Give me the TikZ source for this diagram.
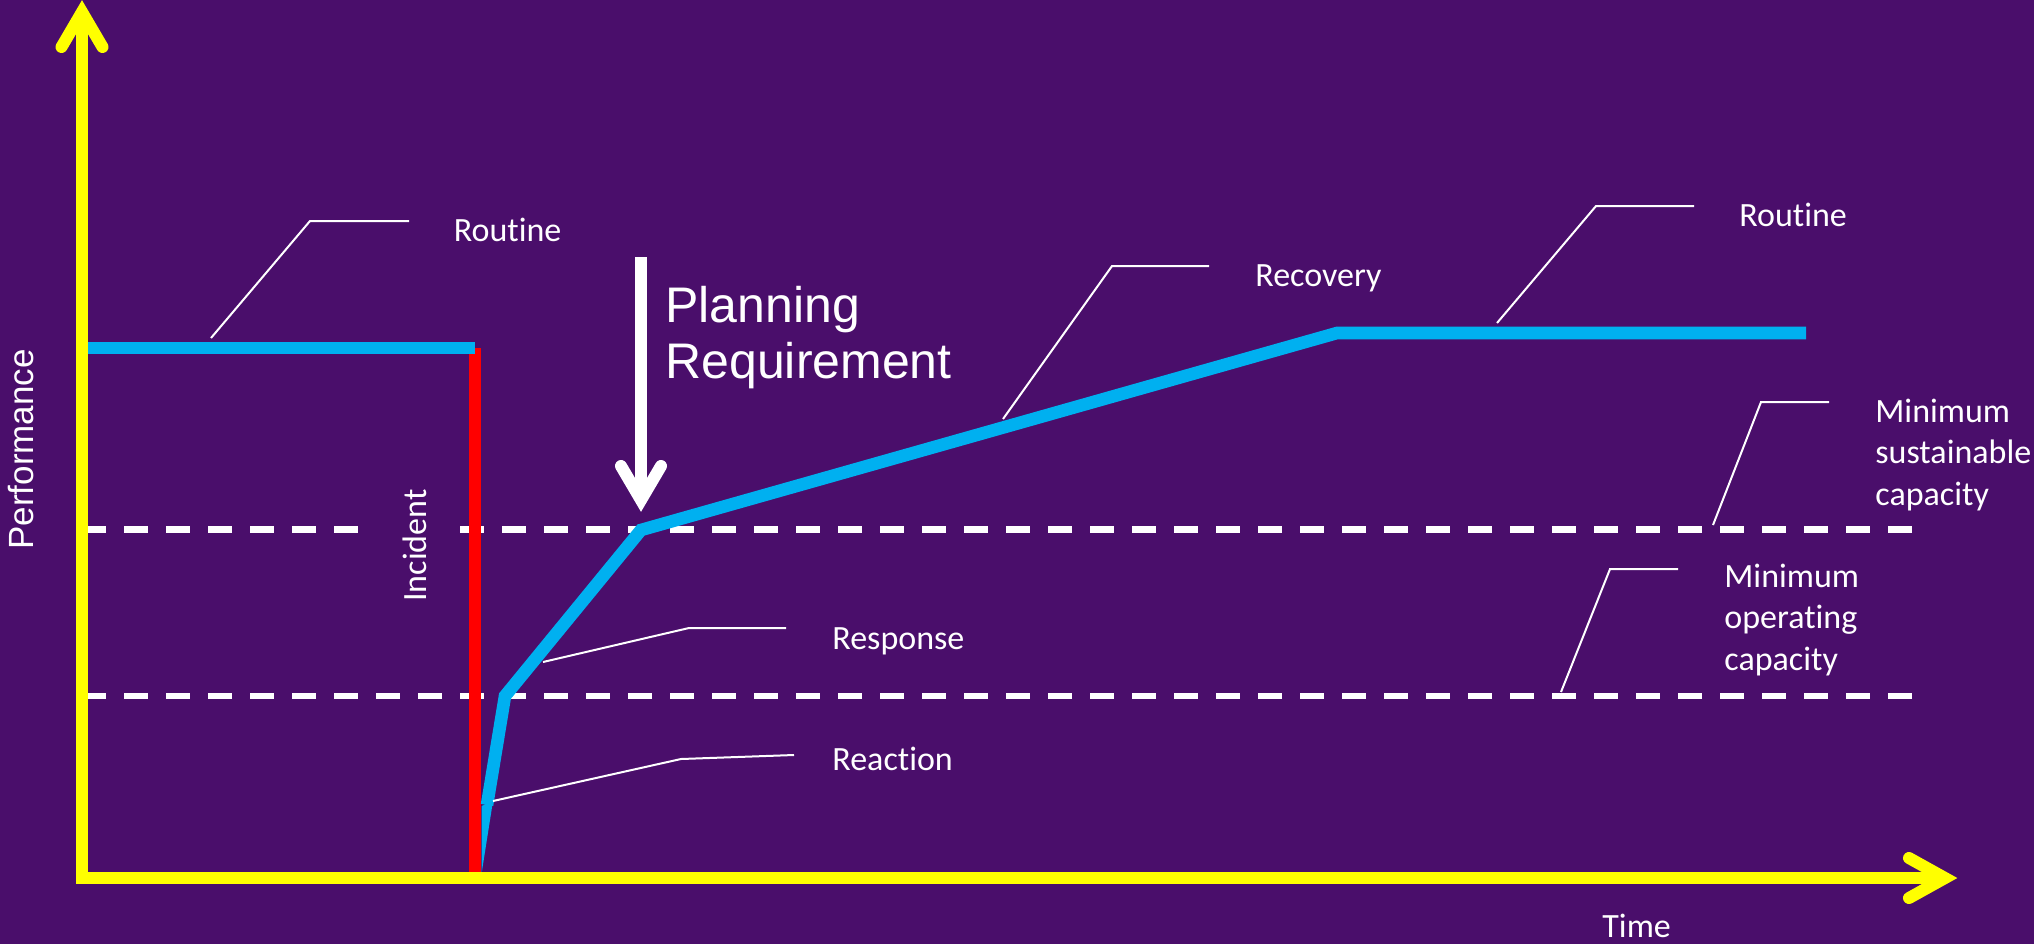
\documentclass[tikz,border=0pt]{standalone}
\usepackage{fontspec}
\newfontfamily\calfont[Ligatures=NoCommon]{Carlito}
\newfontfamily\arifont{Liberation Sans}
\definecolor{bgc}{RGB}{74,14,107}
\definecolor{curve}{RGB}{0,176,240}
\definecolor{axisy}{RGB}{255,255,0}
\definecolor{incred}{RGB}{255,0,0}
\begin{document}
\begin{tikzpicture}[x=0.5pt,y=-0.5pt,
  lbl/.style={text=white,inner sep=0pt,anchor=base west,font=\calfont\fontsize{17}{20.75}\selectfont,align=left},
  leader/.style={draw=white,line width=1pt},
  capline/.style={draw=white,line width=3.2pt,dash pattern=on 12pt off 9pt},
  axisline/.style={draw=axisy,line width=6pt,line join=miter},
  axistip/.style={draw=axisy,line width=6pt,line cap=round,line join=miter},
  curveline/.style={draw=curve,line width=6.3pt,line join=miter}]
\fill[bgc] (0,0) rectangle (2034,944);
\useasboundingbox (0,0) rectangle (2034,944);
% capacity lines
\coordinate (s1) at (82,529.5);
\coordinate (s2) at (1912,529.5);
\coordinate (o1) at (82,696);
\coordinate (o2) at (1912,696);
\draw[capline] (s1) -- (s2);
\draw[capline] (o1) -- (o2);
\fill[bgc] (358,505) rectangle (460,555);
% incident
\coordinate (r1) at (475,348);
\coordinate (r2) at (475,876);
\draw[draw=incred,line width=6pt] (r1) -- (r2);
% curve
\coordinate (c0) at (82,348);
\coordinate (c1) at (475,348);
\draw[curveline] (c0) -- (c1);
\coordinate (p0) at (487,805);
\coordinate (p1) at (505,696);
\coordinate (p2) at (641,530);
\coordinate (p3) at (1337,333);
\coordinate (p4) at (1806,333);
\fill[curve] (481.5,806) -- (493,801) -- (481.5,874) -- cycle;
\draw[curveline] (p0) -- (p1) -- (p2) -- (p3) -- (p4);
% axes
\coordinate (ytip) at (82,12);
\coordinate (org) at (82,878);
\coordinate (xtip) at (1945,878);
\draw[axisline] (ytip) -- (org) -- (xtip);
\draw[axistip] (61.5,47) -- (ytip) -- (102.5,47);
\draw[axistip] (1909,858) -- (xtip) -- (1909,898);
% planning arrow
\coordinate (pa0) at (641,257);
\coordinate (pa1) at (641,500);
\draw[draw=white,line width=6pt] (pa0) -- (pa1);
\draw[draw=white,line width=6pt,line cap=round,line join=miter] (621,466) -- (pa1) -- (661,466);
\node[text=white,inner sep=0pt,anchor=base west,font=\arifont\fontsize{25}{28}\selectfont,align=left] (plan) at (665,378) {Planning\\Requirement};
% labels
\node[lbl] (rout1) at (453.5,241) {Routine};
\node[lbl] (rout2) at (1739,226) {Routine};
\node[lbl] (recov) at (1255,286) {Recovery};
\node[lbl] (resp) at (832,649) {Response};
\node[lbl] (react) at (832,770) {Reaction};
\node[lbl] (msc) at (1875,505) {Minimum\\sustainable\\capacity};
\node[lbl] (moc) at (1724,670) {Minimum\\operating\\capacity};
\node[lbl] (time) at (1602,937) {Time};
\node[lbl,rotate=90] (inc) at (426,602) {Incident};
\node[text=white,inner sep=0pt,anchor=base west,rotate=90,font=\arifont\fontsize{17.5}{20}\selectfont] (perf) at (33,550) {Performance};
% leaders
\draw[leader] (211,338) -- (310,221) -- (409,221);
\draw[leader] (1497,323) -- (1596,206) -- (1694,206);
\draw[leader] (1003,419) -- (1112,266) -- (1209,266);
\draw[leader] (543,662) -- (689,628) -- (786,628);
\draw[leader] (493,801) -- (681,759) -- (794,755);
\draw[leader] (1713,525) -- (1761,402) -- (1829,402);
\draw[leader] (1561,692) -- (1610,569) -- (1678,569);
\end{tikzpicture}
\end{document}
